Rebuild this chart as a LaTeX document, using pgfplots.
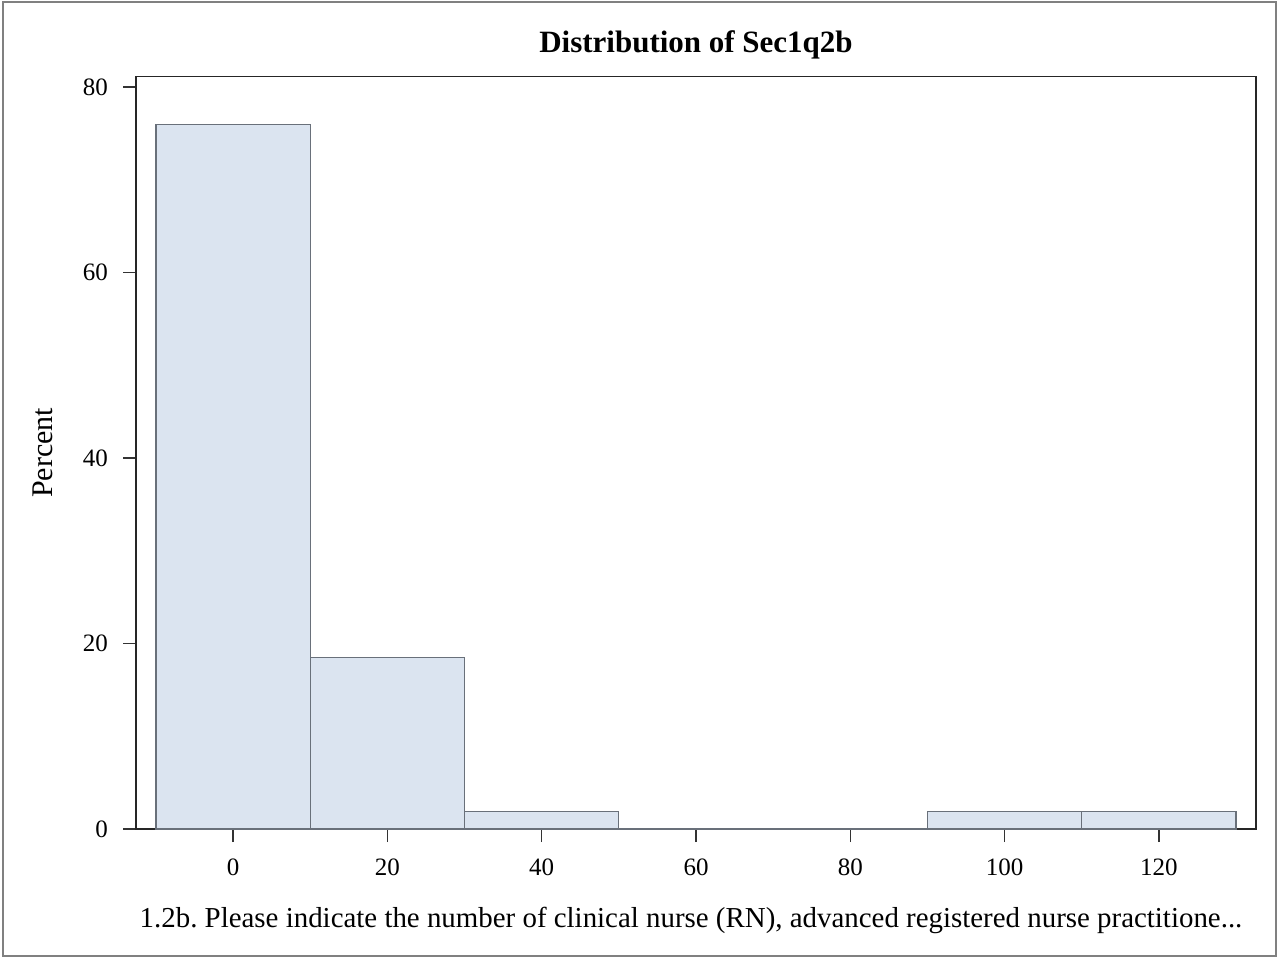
\documentclass[border=0pt]{standalone}
\usepackage{pgfplots}
\pgfplotsset{compat=1.18}
\usepackage{fontspec}
\setmainfont{Liberation Serif}
\frenchspacing
\definecolor{barfill}{RGB}{219,228,240}
\definecolor{baredge}{RGB}{105,112,122}
\definecolor{framegray}{RGB}{128,128,128}
\begin{document}
\begin{tikzpicture}
\path[use as bounding box] (-68pt,-64pt) rectangle (570.5pt,414.5pt);
\draw[framegray, line width=0.7pt] (-66.5pt,-63.5pt) rectangle (570pt,413.5pt);
\begin{axis}[
  at={(0,0)}, anchor=south west,
  scale only axis,
  width=560pt, height=376.15pt,
  xmin=-12.6, xmax=132.6,
  ymin=0, ymax=81.1,
  axis line style={black!85, line width=0.8pt},
  xtick={0,20,40,60,80,100,120},
  ytick={0,20,40,60,80},
  tick align=outside,
  xtick pos=bottom, ytick pos=left,
  major tick length=6.5pt,
  tick style={black!80, line width=0.7pt},
  tick label style={font=\fontsize{12.5}{14}\selectfont},
  /pgf/number format/assume math mode=true,
  xticklabel style={anchor=base, yshift=-16.5pt},
  yticklabel style={anchor=east, xshift=-4pt},
  xticklabel shift=0pt, yticklabel shift=0pt,
  clip=false,
]
\addplot[ybar interval, fill=barfill, draw=baredge, line width=0.6pt]
  coordinates {(-10,75.93) (10,18.52) (30,1.85) (50,0) (70,0) (90,1.85) (110,1.85) (130,1.85)};
\end{axis}
\node[anchor=base, font=\fontsize{15.5}{18}\bfseries] at (280pt,388pt) {Distribution of Sec1q2b};
\node[anchor=base, rotate=90, font=\fontsize{15}{18}\selectfont] at (-41.5pt,188pt) {Percent};
\node[anchor=base, font=\fontsize{14.45}{17}\selectfont] at (277.5pt,-49pt) {1.2b. Please indicate the number of clinical nurse (RN), advanced registered nurse practitione...};
\end{tikzpicture}
\end{document}
